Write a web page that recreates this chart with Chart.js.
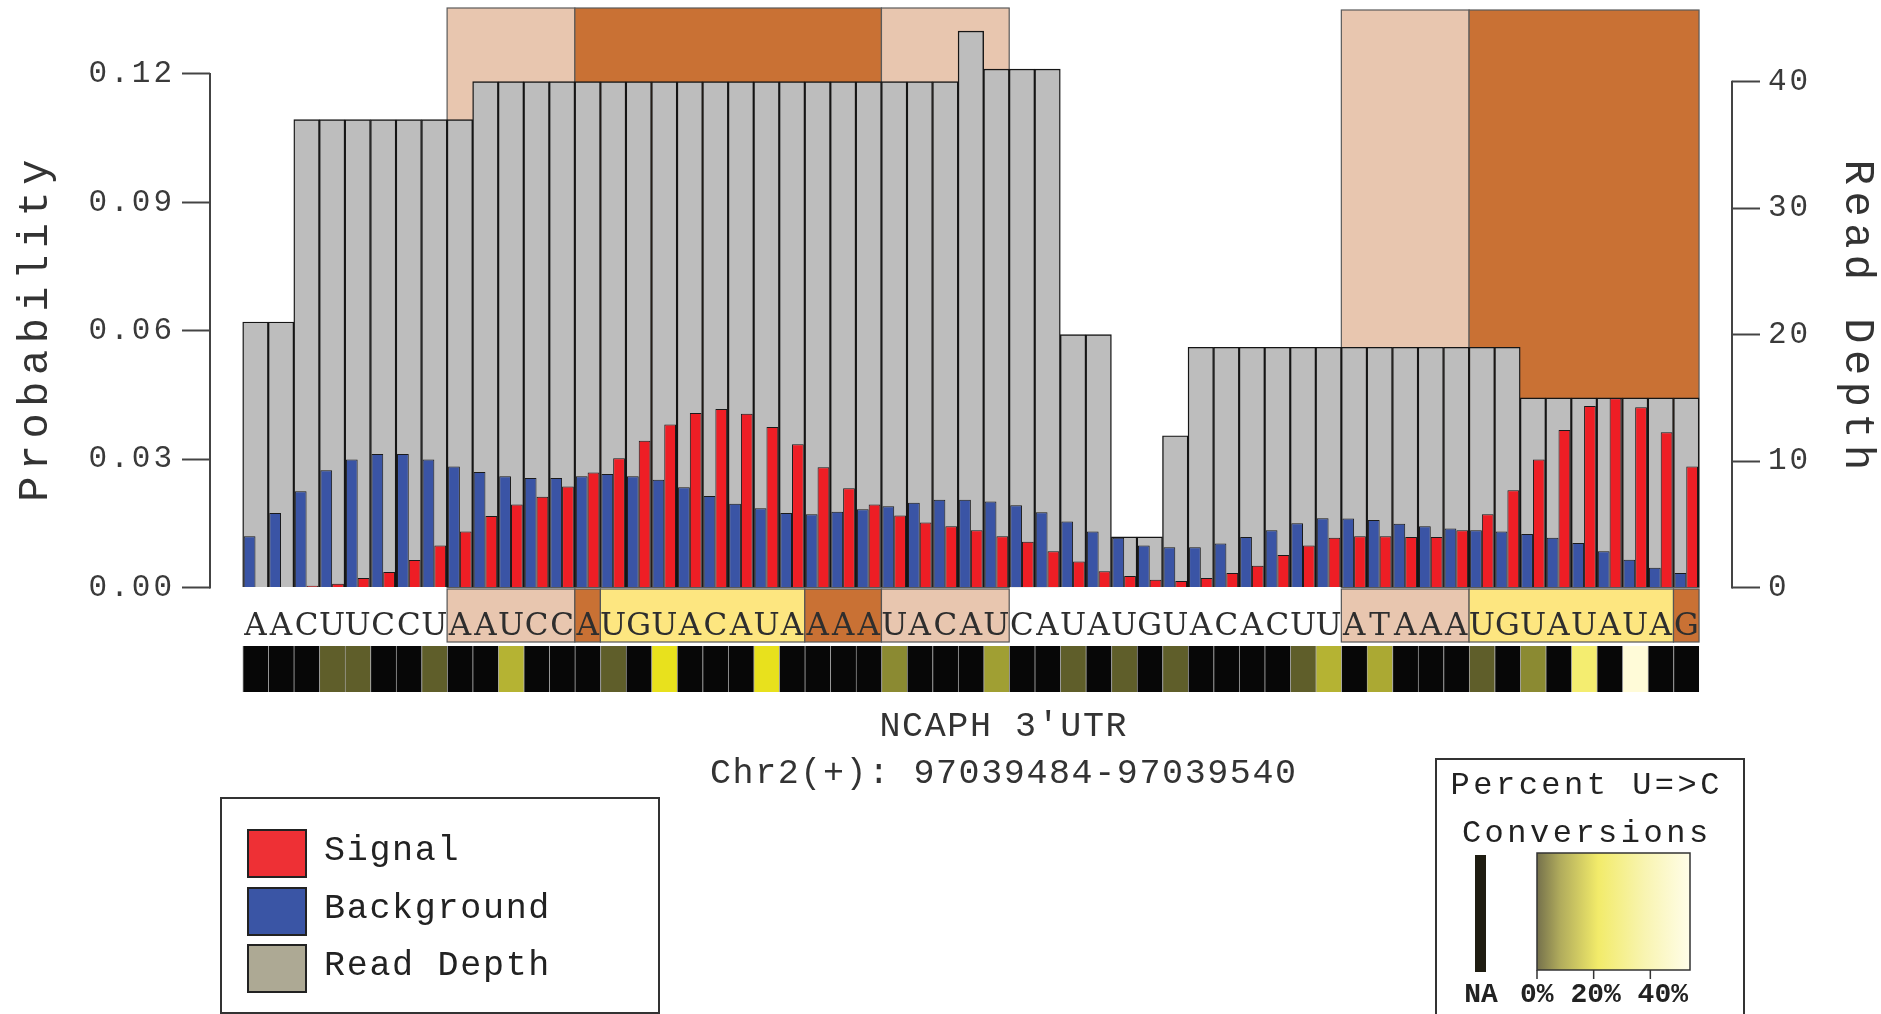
<!DOCTYPE html>
<html>
<head>
<meta charset="utf-8">
<script src="https://cdn.jsdelivr.net/npm/chart.js@4.4.1/dist/chart.umd.min.js"></script>
<style>
  html, body { margin: 0; padding: 0; background: #ffffff; overflow: hidden; }
  #wrap { width: 1881px; height: 1014px; position: relative; }
</style>
</head>
<body>
<div id="wrap"><canvas id="c" width="1881" height="1014"></canvas></div>
<script>
// ---------------- DATA ----------------
const sequence = "AACUUCCUAAUCCAUGUACAUAAAAUACAUCAUAUGUACACUUATAAAUGUAUAUAG".split("");

const readDepth = [21, 21, 37, 37, 37, 37, 37, 37, 37, 40,
                   40, 40, 40, 40, 40, 40, 40, 40, 40, 40,
                   40, 40, 40, 40, 40, 40, 40, 40, 44, 41,
                   41, 41, 20, 20, 4, 4, 12, 19, 19, 19,
                   19, 19, 19, 19, 19, 19, 19, 19, 19, 19,
                   15, 15, 15, 15, 15, 15, 15];

const background = [0.0120, 0.0174, 0.0225, 0.0274, 0.0299, 0.0312, 0.0312, 0.0299, 0.0283, 0.0270,
                    0.0260, 0.0256, 0.0256, 0.0260, 0.0265, 0.0260, 0.0252, 0.0234, 0.0214, 0.0196,
                    0.0185, 0.0174, 0.0171, 0.0177, 0.0183, 0.0190, 0.0198, 0.0205, 0.0205, 0.0201,
                    0.0192, 0.0176, 0.0154, 0.0131, 0.0116, 0.0098, 0.0094, 0.0094, 0.0103, 0.0118,
                    0.0134, 0.0150, 0.0162, 0.0161, 0.0158, 0.0149, 0.0143, 0.0138, 0.0134, 0.0131,
                    0.0125, 0.0116, 0.0104, 0.0085, 0.0065, 0.0046, 0.0034];

const signal = [0.0000, 0.0000, 0.0004, 0.0009, 0.0022, 0.0036, 0.0064, 0.0098, 0.0131, 0.0167,
                0.0194, 0.0212, 0.0236, 0.0269, 0.0302, 0.0343, 0.0381, 0.0408, 0.0417, 0.0406,
                0.0375, 0.0335, 0.0281, 0.0232, 0.0194, 0.0168, 0.0152, 0.0143, 0.0134, 0.0120,
                0.0107, 0.0085, 0.0061, 0.0038, 0.0027, 0.0018, 0.0015, 0.0022, 0.0034, 0.0051,
                0.0076, 0.0098, 0.0116, 0.0120, 0.0120, 0.0118, 0.0118, 0.0134, 0.0171, 0.0227,
                0.0299, 0.0368, 0.0424, 0.0442, 0.0421, 0.0363, 0.0283];

// percent U=>C conversions (null = NA)
const conversionPct = [null, null, null, 4, 4, null, null, 4, null, null,
                       12, null, null, null, 4, null, 20, null, null, null,
                       20, null, null, null, null, 8, null, null, null, 10,
                       null, null, 4, null, 4, null, 4, null, null, null,
                       null, 4, 12, null, 11, null, null, null, 4, null,
                       8, null, 27, null, 45, null, null];

// site annotations above the plot
const siteStarts = [8, 13, 25, 43, 48];
const siteEnds   = [12, 24, 29, 47, 56];
const siteKinds  = ["weak", "strong", "weak", "weak", "strong"];

// boxes behind the sequence letters
const seqStarts = [8, 13, 14, 22, 25, 43, 48, 56];
const seqEnds   = [12, 13, 21, 24, 29, 47, 55, 56];
const seqKinds  = ["weak", "strong", "seed", "strong", "weak", "weak", "seed", "strong"];

const probTicks  = [0, 0.03, 0.06, 0.09, 0.12];
const depthTicks = [0, 10, 20, 30, 40];
const pctTicks   = [0, 20, 40];
const legendLabels = ["Signal", "Background", "Read Depth"];
const titleLines = ["NCAPH 3'UTR", "Chr2(+): 97039484-97039540"];

// ---------------- STYLE / LAYOUT ----------------
const MONO = "'Liberation Mono', 'DejaVu Sans Mono', monospace";
const COL = {
  signal: "#EE1E25", background: "#3A54A5", depth: "#BDBDBD",
  weak: "#E8C6AF", strong: "#C97134", seed: "#FDE680",
  legendSignal: "#EE3035", legendBackground: "#3A55A5", legendDepth: "#ADA994",
  axis: "#444444", text: "#333333"
};
const AREA_TOP = 8, AREA_BOTTOM = 692, AREA_LEFT = 210, AREA_RIGHT = 1732;
const BASE_PX = 587.5, PROB_TOP_PX = 74, DEPTH_TOP_PX = 81.7;
const probTop = probTicks[probTicks.length - 1], depthTop = depthTicks[depthTicks.length - 1];
const probPx = (BASE_PX - PROB_TOP_PX) / probTop;
const depthPx = (BASE_PX - DEPTH_TOP_PX) / depthTop;
const Y_MIN = -(AREA_BOTTOM - BASE_PX) / probPx, Y_MAX = (BASE_PX - AREA_TOP) / probPx;
const D_MIN = -(AREA_BOTTOM - BASE_PX) / depthPx, D_MAX = (BASE_PX - AREA_TOP) / depthPx;
const ROW_MAX = AREA_BOTTOM - AREA_TOP;
const HEAT_ROW = [0, 46];
const SEQ_ROW = [50, 103];
const X_MIN = -1.78, X_MAX = 57.79;
const TICK_SPACING = 3;

const conversionStops = [[0, "#3c3b22"], [4, "#5f5e2a"], [8, "#8b8a32"], [12, "#b5b333"],
                         [20, "#e8e11d"], [27, "#f4ed70"], [45, "#fffbd8"]];
function hexRgb(h) { return [1, 3, 5].map(i => parseInt(h.substr(i, 2), 16)); }
function conversionColor(p) {
  if (p === null || p === undefined) return "#070707";
  const s = conversionStops;
  if (p <= s[0][0]) return s[0][1];
  for (let k = 1; k < s.length; k++) {
    if (p <= s[k][0]) {
      const t = (p - s[k - 1][0]) / (s[k][0] - s[k - 1][0]);
      const a = hexRgb(s[k - 1][1]), b = hexRgb(s[k][1]);
      return "rgb(" + a.map((v, j) => Math.round(v + (b[j] - v) * t)).join(",") + ")";
    }
  }
  return s[s.length - 1][1];
}

function spacedText(ctx, text, x, y, size, spacing, color, align, rot, weight) {
  ctx.save();
  ctx.font = (weight || "normal") + " " + size + "px " + MONO;
  ctx.letterSpacing = "0px";
  const w0 = ctx.measureText(text).width;
  const w = w0 + spacing * (text.length - 1);
  ctx.letterSpacing = spacing + "px";
  ctx.fillStyle = color;
  ctx.textAlign = "left";
  ctx.textBaseline = "middle";
  ctx.translate(x, y);
  ctx.rotate(rot || 0);
  const sx = align === "center" ? -w / 2 : (align === "right" ? -w : 0);
  ctx.fillText(text, sx, 0);
  ctx.restore();
}

const positions = sequence.map((_, i) => i);

const decor = {
  id: "decor",
  beforeDraw(chart) { chart.ctx.letterSpacing = TICK_SPACING + "px"; },
  beforeDatasetsDraw(chart) {
    const ctx = chart.ctx;
    ctx.letterSpacing = "0px";
    const { x, y, yRow } = chart.scales;
    const top = chart.chartArea.top;
    const base = y.getPixelForValue(0);
    ctx.save();
    // site boxes above plot
    siteStarts.forEach((s, k) => {
      const x0 = x.getPixelForValue(s - 0.5), x1 = x.getPixelForValue(siteEnds[k] + 0.5);
      const t = s >= 40 ? top + 2 : top;
      ctx.fillStyle = COL[siteKinds[k]];
      ctx.fillRect(x0, t, x1 - x0, base - t);
      ctx.strokeStyle = "#5a5a5a"; ctx.lineWidth = 1.2;
      ctx.strokeRect(x0, t, x1 - x0, base - t);
    });
    // sequence boxes
    const sy0 = yRow.getPixelForValue(SEQ_ROW[1]), sy1 = yRow.getPixelForValue(SEQ_ROW[0]);
    seqStarts.forEach((s, k) => {
      const x0 = x.getPixelForValue(s - 0.5), x1 = x.getPixelForValue(seqEnds[k] + 0.5);
      ctx.fillStyle = COL[seqKinds[k]];
      ctx.fillRect(x0, sy0, x1 - x0, sy1 - sy0);
      ctx.strokeStyle = "#555"; ctx.lineWidth = 1.2;
      ctx.strokeRect(x0, sy0, x1 - x0, sy1 - sy0);
    });
    ctx.restore();
  },
  afterDraw(chart) {
    const ctx = chart.ctx;
    ctx.letterSpacing = "0px";
    const { y, yDepth } = chart.scales;
    const ca = chart.chartArea;
    ctx.save();
    // axis brackets
    ctx.strokeStyle = COL.axis; ctx.lineWidth = 2;
    ctx.beginPath();
    ctx.moveTo(ca.left, y.getPixelForValue(0) + 1); ctx.lineTo(ca.left, y.getPixelForValue(probTop) - 1);
    ctx.moveTo(ca.right, yDepth.getPixelForValue(0) + 1); ctx.lineTo(ca.right, yDepth.getPixelForValue(depthTop) - 1);
    ctx.stroke();
    // axis titles
    const yMid = (y.getPixelForValue(0) + y.getPixelForValue(probTop)) / 2;
    spacedText(ctx, "Probability", 36, yMid, 42, 6.5, COL.text, "center", -Math.PI / 2);
    spacedText(ctx, "Read Depth", 1857, 315, 42, 6.5, COL.text, "center", Math.PI / 2);
    // region caption
    spacedText(ctx, titleLines[0], 1003, 727, 35, 1.6, COL.text, "center");
    spacedText(ctx, titleLines[1], 1003, 774, 35, 1.6, COL.text, "center");

    // legend 1
    ctx.lineWidth = 2; ctx.strokeStyle = "#333";
    ctx.fillStyle = "#fff";
    ctx.fillRect(221, 798, 438, 215);
    ctx.strokeRect(221, 798, 438, 215);
    const swCols = [COL.legendSignal, COL.legendBackground, COL.legendDepth];
    const swTop = [830, 888, 945];
    legendLabels.forEach((lab, k) => {
      ctx.fillStyle = swCols[k];
      ctx.fillRect(248, swTop[k], 58, 47);
      ctx.strokeStyle = "#222"; ctx.lineWidth = 2;
      ctx.strokeRect(248, swTop[k], 58, 47);
      spacedText(ctx, lab, 324, swTop[k] + 21, 35, 1.7, "#222", "left");
    });

    // legend 2 (conversion colour key)
    ctx.fillStyle = "#fff";
    ctx.fillRect(1436, 759, 308, 260);
    ctx.strokeStyle = "#333"; ctx.lineWidth = 2;
    ctx.strokeRect(1436, 759, 308, 260);
    spacedText(ctx, "Percent U=>C", 1585, 786, 32, 3.5, "#222", "center");
    spacedText(ctx, "Conversions", 1585, 834, 32, 3.5, "#222", "center");
    ctx.fillStyle = "#1f1d12";
    ctx.fillRect(1475, 855, 11, 117);
    const gx0 = 1537, gx1 = 1690, gy0 = 853, gy1 = 970, PCT_MAX = 54;
    const grad = ctx.createLinearGradient(gx0, 0, gx1, 0);
    grad.addColorStop(0, "#75714c");
    grad.addColorStop(0.15, "#b0ab5c");
    grad.addColorStop(0.40, "#f2eb6a");
    grad.addColorStop(0.70, "#f8f4b0");
    grad.addColorStop(1, "#fffde9");
    ctx.fillStyle = grad;
    ctx.fillRect(gx0, gy0, gx1 - gx0, gy1 - gy0);
    ctx.strokeStyle = "#333"; ctx.lineWidth = 1.5;
    ctx.strokeRect(gx0, gy0, gx1 - gx0, gy1 - gy0);
    ctx.beginPath();
    pctTicks.forEach(p => {
      const tx = gx0 + (gx1 - gx0) * p / PCT_MAX;
      ctx.moveTo(tx, gy1); ctx.lineTo(tx, gy1 + 9);
    });
    ctx.stroke();
    spacedText(ctx, "NA", 1481, 995, 28, 0, "#222", "center", 0, "bold");
    spacedText(ctx, pctTicks.map(p => p + "%").join(" "), 1520, 995, 28, 0, "#222", "left", 0, "bold");
    ctx.restore();
  }
};

const chart = new Chart(document.getElementById("c"), {
  type: "bar",
  data: {
    labels: positions,
    datasets: [
      {
        label: "Background", data: background, yAxisID: "y",
        backgroundColor: COL.background, borderColor: "#1a1a1a", borderWidth: 1,
        categoryPercentage: 0.92, barPercentage: 1.0, order: 1
      },
      {
        label: "Signal", data: signal, yAxisID: "y",
        backgroundColor: COL.signal, borderColor: "#1a1a1a", borderWidth: 1,
        categoryPercentage: 0.92, barPercentage: 1.0, order: 1
      },
      {
        label: "Read Depth", data: readDepth, yAxisID: "yDepth",
        backgroundColor: COL.depth, borderColor: "#151515", borderWidth: 1.4,
        categoryPercentage: 1.0, barPercentage: 1.0, grouped: false, order: 5
      },
      {
        label: "U=>C conversions", data: conversionPct.map(() => HEAT_ROW.slice()), yAxisID: "yRow",
        backgroundColor: conversionPct.map(conversionColor),
        borderColor: "rgba(120,120,120,0.6)", borderSkipped: false,
        borderWidth: { left: 1, right: 0, top: 0, bottom: 0 },
        categoryPercentage: 1.0, barPercentage: 1.0, grouped: false, order: 2
      }
    ]
  },
  options: {
    responsive: false,
    animation: false,
    devicePixelRatio: 1,
    events: [],
    layout: { autoPadding: false, padding: { left: 0, right: 0, top: AREA_TOP, bottom: 1014 - AREA_BOTTOM } },
    plugins: { legend: { display: false }, tooltip: { enabled: false }, title: { display: false } },
    scales: {
      x: {
        type: "linear", min: X_MIN, max: X_MAX, offset: false,
        position: { yRow: SEQ_ROW[1] + 1 },
        z: 2,
        afterBuildTicks: ax => { ax.ticks = positions.map(v => ({ value: v })); },
        afterFit: ax => { ax.paddingLeft = 0; ax.paddingRight = 0; },
        ticks: {
          z: 2,
          autoSkip: false, maxRotation: 0, minRotation: 0, padding: 12,
          callback: (v, i) => sequence[i],
          font: { family: "'DejaVu Serif', serif", size: 31 }, color: "#2e2e2e"
        },
        grid: { display: false, offset: false },
        border: { display: false }
      },
      y: {
        type: "linear", position: "left", min: Y_MIN, max: Y_MAX,
        afterBuildTicks: ax => { ax.ticks = probTicks.map(v => ({ value: v })); },
        afterFit: ax => { ax.width = AREA_LEFT; ax.paddingTop = 0; ax.paddingBottom = 0; },
        ticks: { callback: v => Number(v).toFixed(2), font: { family: MONO, size: 31 }, color: "#3a3a3a", padding: 7 },
        grid: { drawOnChartArea: false, drawTicks: true, tickLength: 28, tickWidth: 2, tickColor: COL.axis },
        border: { display: false }
      },
      yDepth: {
        type: "linear", position: "right", min: D_MIN, max: D_MAX,
        afterBuildTicks: ax => { ax.ticks = depthTicks.map(v => ({ value: v })); },
        afterFit: ax => { ax.width = 1881 - AREA_RIGHT; ax.paddingTop = 0; ax.paddingBottom = 0; },
        ticks: { callback: v => String(v), font: { family: MONO, size: 31 }, color: "#3a3a3a", padding: 8 },
        grid: { drawOnChartArea: false, drawTicks: true, tickLength: 28, tickWidth: 2, tickColor: COL.axis },
        border: { display: false }
      },
      yRow: {
        type: "linear", position: "left", min: 0, max: ROW_MAX, display: false
      }
    }
  },
  plugins: [decor]
});
</script>
</body>
</html>
